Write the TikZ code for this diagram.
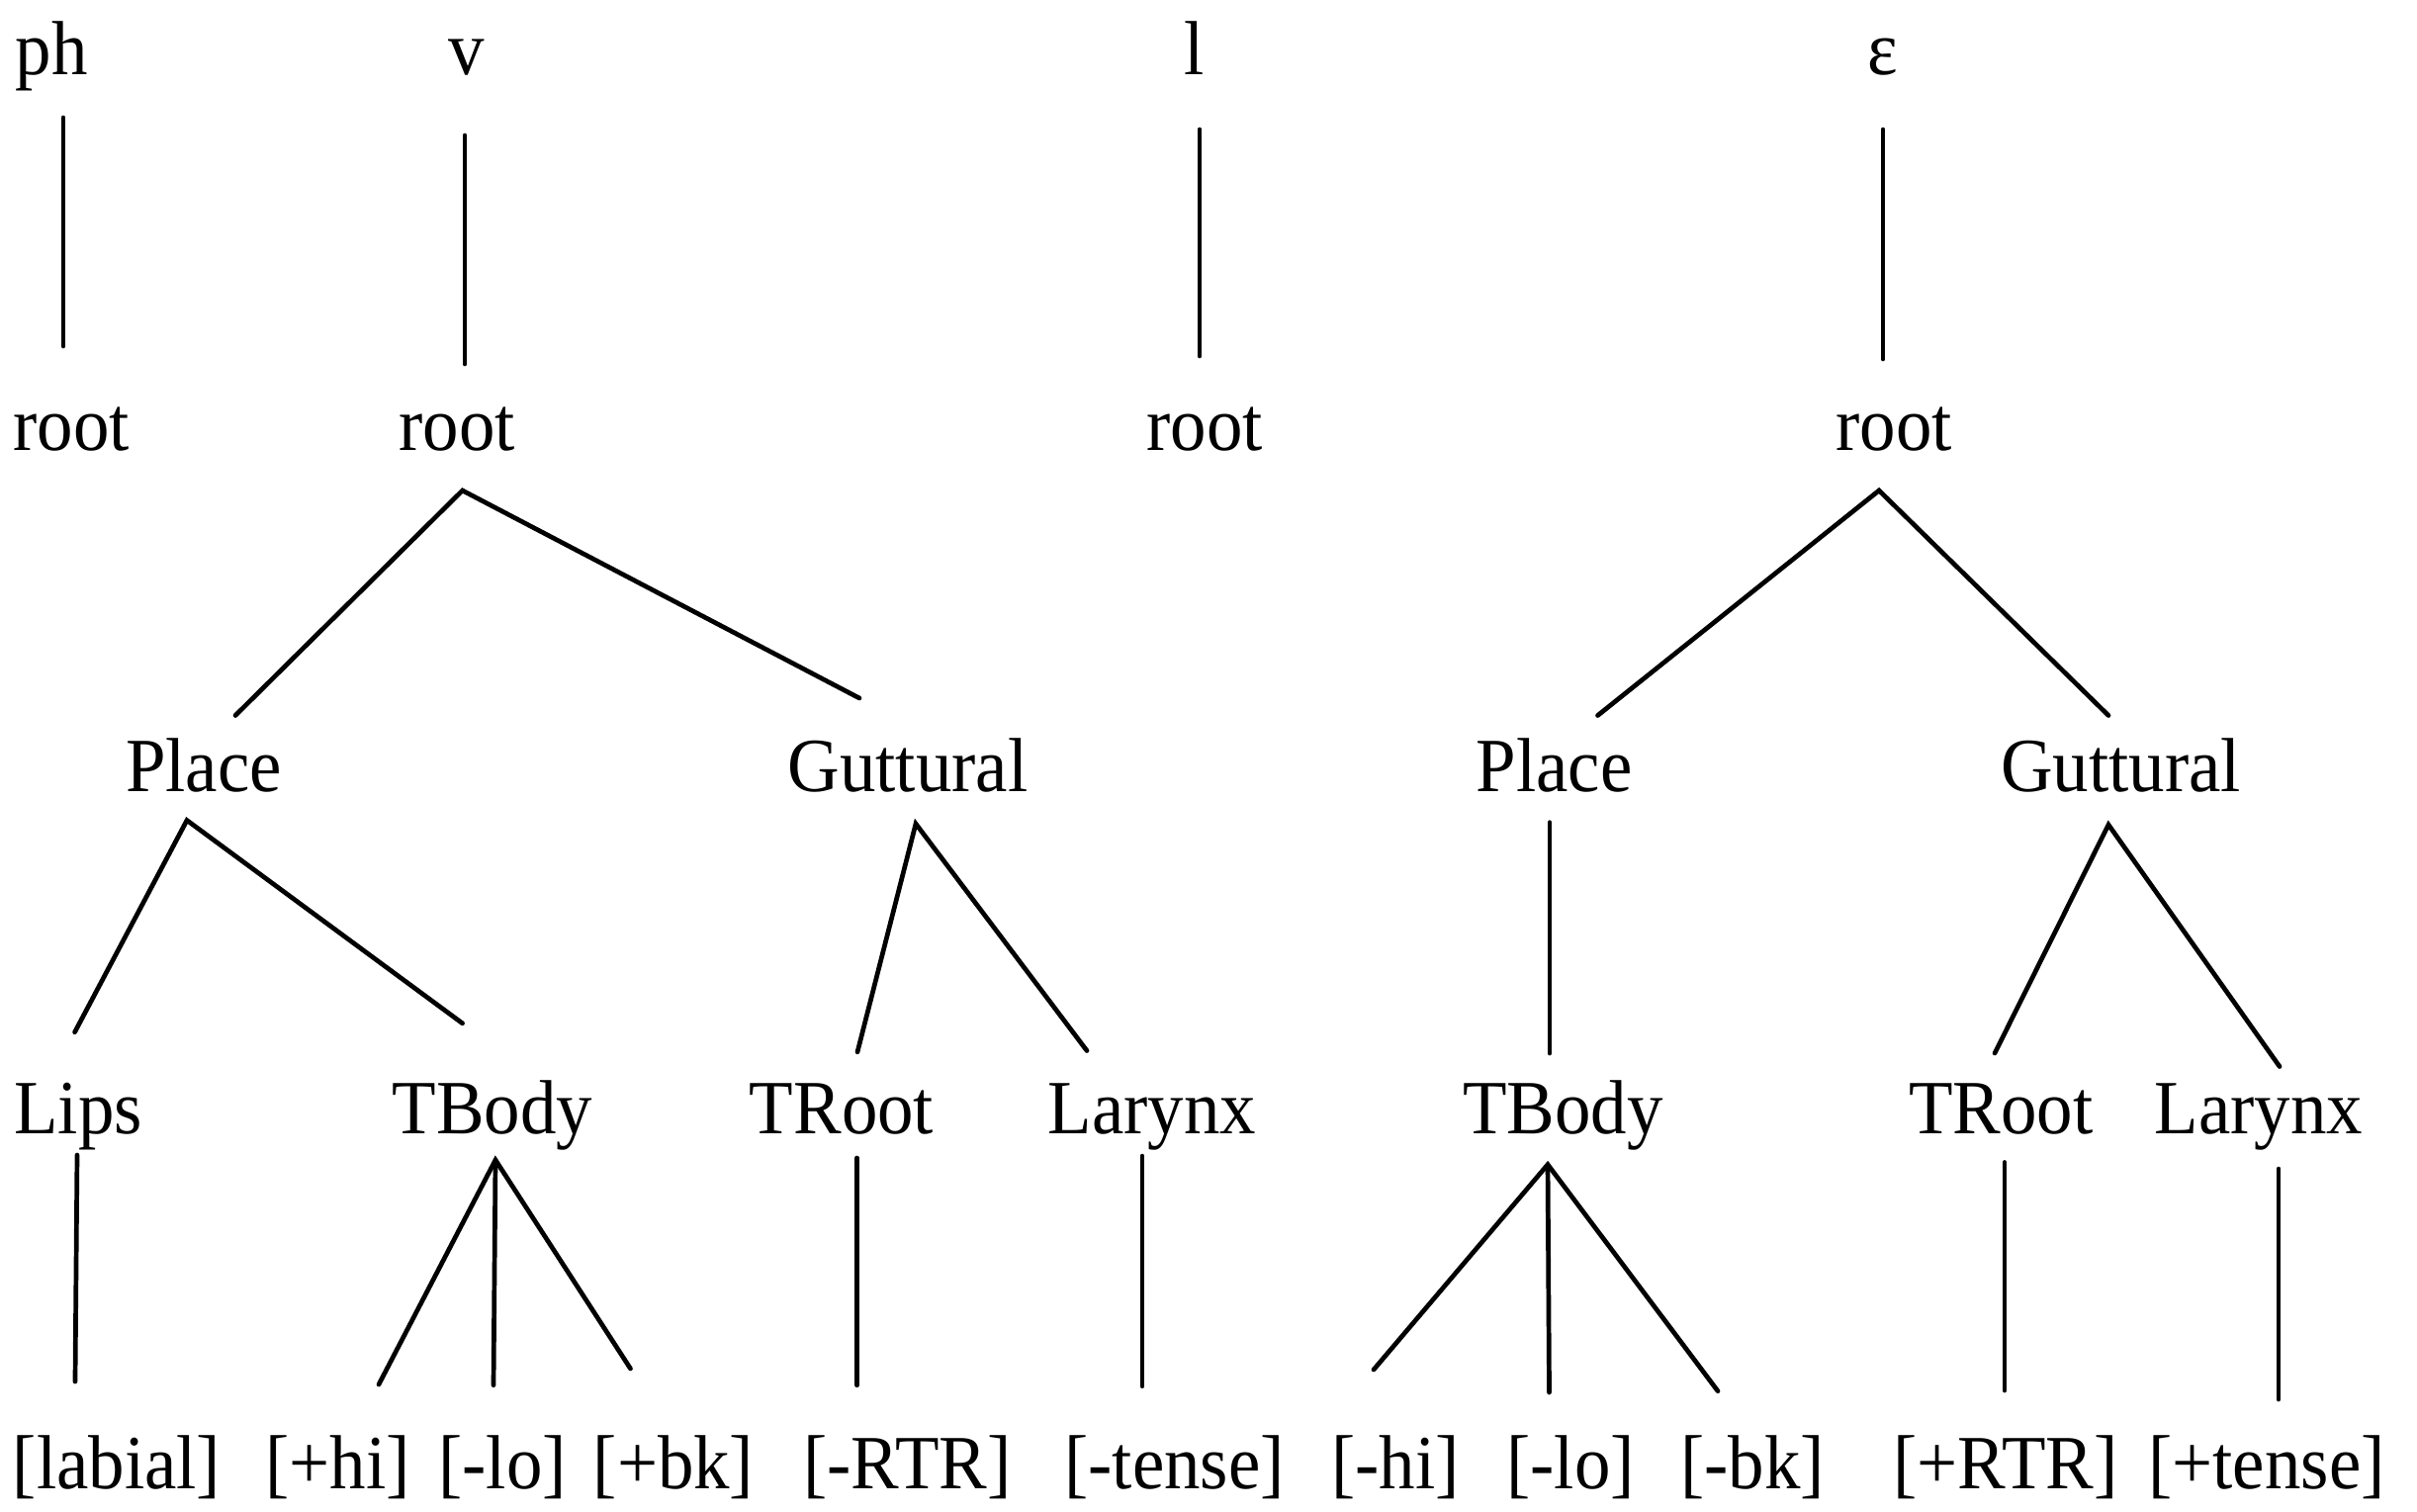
\documentclass[tikz,border=0pt]{standalone}
\usepackage{fontspec}
\setmainfont{Liberation Serif}[FakeStretch=0.94]
\begin{document}
\begin{tikzpicture}[x=0.0063420cm,y=-0.0063420cm,
  lab/.style={anchor=base,inner sep=0pt,font=\fontsize{14}{17}\selectfont},
  edge/.style={line width=0.85pt,line cap=round}]
\useasboundingbox (0,0) rectangle (2444,1528);
% ---------- row 1: segments ----------
\node[lab] (ph) at (52,75.5) {ph};
\node[lab] (v) at (472,75.5) {v};
\node[lab] (l) at (1208,75.5) {l};
\node[lab] (eps) at (1904,75.5) {ε};
% ---------- row 2: roots ----------
\node[lab] (r1) at (72,455.5) {root};
\node[lab] (r2) at (462,455.5) {root};
\node[lab] (r3) at (1218,455.5) {root};
\node[lab] (r4) at (1915,455.5) {root};
% ---------- row 3 ----------
\node[lab] (pl1) at (206,800.4) {Place};
\node[lab] (gu1) at (918,800.4) {Guttural};
\node[lab] (pl2) at (1571.5,800.4) {Place};
\node[lab] (gu2) at (2144.5,800.4) {Guttural};
% ---------- row 4 ----------
\node[lab] (lips) at (79,1146.4) {Lips};
\node[lab] (tb1) at (498,1146.4) {TBody};
\node[lab] (tr1) at (851,1146.4) {TRoot};
\node[lab] (lx1) at (1165,1146.4) {Larynx};
\node[lab] (tb2) at (1580.5,1146.4) {TBody};
\node[lab] (tr2) at (2023.5,1146.4) {TRoot};
\node[lab] (lx2) at (2284,1146.4) {Larynx};
% ---------- row 5: features ----------
\node[lab] (lab) at (118,1505.5) {[labial]};
\node[lab] (phi) at (341.5,1505.5) {[+hi]};
\node[lab] (mlo1) at (508,1505.5) {[-lo]};
\node[lab] (pbk) at (681,1505.5) {[+bk]};
\node[lab] (mrtr) at (917.5,1505.5) {[-RTR]};
\node[lab] (mten) at (1187.6,1505.5) {[-tense]};
\node[lab] (mhi) at (1411,1505.5) {[-hi]};
\node[lab] (mlo2) at (1588,1505.5) {[-lo]};
\node[lab] (mbk) at (1772,1505.5) {[-bk]};
\node[lab] (prtr) at (2028,1505.5) {[+RTR]};
\node[lab] (pten) at (2292,1505.5) {[+tense]};
% ---------- connector end points ----------
\coordinate (ph-d) at (64,119);    \coordinate (r1-u) at (64,350);
\coordinate (v-d) at (470,137);    \coordinate (r2-u) at (470,368);
\coordinate (l-d) at (1213,131);   \coordinate (r3-u) at (1213,360);
\coordinate (eps-d) at (1904,131); \coordinate (r4-u) at (1904,363);
\coordinate (r2-d) at (467.6,496);
\coordinate (pl1-u) at (238,723.5); \coordinate (gu1-u) at (869,706);
\coordinate (r4-d) at (1900,496);
\coordinate (pl2-u) at (1615.5,723.5); \coordinate (gu2-u) at (2132,723.5);
\coordinate (pl1-d) at (189,829.5);
\coordinate (lips-u) at (75.6,1043.7); \coordinate (tb1-u) at (467.6,1034.8);
\coordinate (gu1-d) at (926,833);
\coordinate (tr1-u) at (867,1063.8); \coordinate (lx1-u) at (1099,1062.5);
\coordinate (pl2-d) at (1567,831.7); \coordinate (tb2-u) at (1567,1065);
\coordinate (gu2-d) at (2132,834);
\coordinate (tr2-u) at (2017,1065); \coordinate (lx2-u) at (2305,1078.5);
\coordinate (lips-d) at (78,1168);  \coordinate (lab-u) at (76,1397);
\coordinate (tb1-d) at (501,1173);
\coordinate (phi-u) at (383,1400); \coordinate (mlo1-u) at (499,1400.7); \coordinate (pbk-u) at (637.5,1384);
\coordinate (tr1-d) at (866.6,1171); \coordinate (mrtr-u) at (866.6,1400.7);
\coordinate (lx1-d) at (1155,1169);  \coordinate (mten-u) at (1155,1401.7);
\coordinate (tb2-d) at (1565,1177.6);
\coordinate (mhi-u) at (1389,1385); \coordinate (mlo2-u) at (1566.5,1408); \coordinate (mbk-u) at (1737,1406.7);
\coordinate (tr2-d) at (2027,1175.4); \coordinate (prtr-u) at (2027,1406);
\coordinate (lx2-d) at (2304,1182); \coordinate (pten-u) at (2304,1415);
% ---------- connectors ----------
\draw[edge] (ph-d) -- (r1-u);
\draw[edge] (v-d) -- (r2-u);
\draw[edge] (l-d) -- (r3-u);
\draw[edge] (eps-d) -- (r4-u);
\draw[edge] (pl1-u) -- (r2-d) -- (gu1-u);
\draw[edge] (pl2-u) -- (r4-d) -- (gu2-u);
\draw[edge] (lips-u) -- (pl1-d) -- (tb1-u);
\draw[edge] (tr1-u) -- (gu1-d) -- (lx1-u);
\draw[edge] (pl2-d) -- (tb2-u);
\draw[edge] (tr2-u) -- (gu2-d) -- (lx2-u);
\draw[edge] (lips-d) -- (lab-u);
\draw[edge] (phi-u) -- (tb1-d) -- (pbk-u);
\draw[edge] (tb1-d) -- (mlo1-u);
\draw[edge] (tr1-d) -- (mrtr-u);
\draw[edge] (lx1-d) -- (mten-u);
\draw[edge] (mhi-u) -- (tb2-d) -- (mbk-u);
\draw[edge] (tb2-d) -- (mlo2-u);
\draw[edge] (tr2-d) -- (prtr-u);
\draw[edge] (lx2-d) -- (pten-u);
\end{tikzpicture}
\end{document}
